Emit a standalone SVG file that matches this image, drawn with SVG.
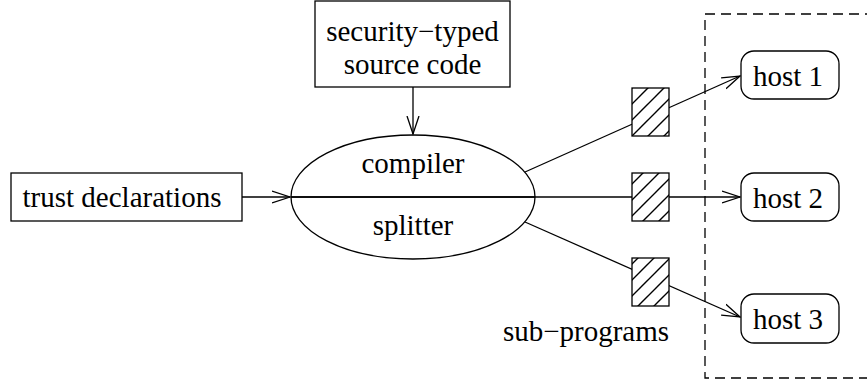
<svg xmlns="http://www.w3.org/2000/svg" width="867" height="381" viewBox="0 0 867 381">
<style>
.box{fill:#fff;stroke:#000;stroke-width:1.3}
.ln{fill:none;stroke:#000;stroke-width:1.3}
.t{font-family:"Liberation Serif","Times New Roman",serif;font-size:29px;fill:#000;text-anchor:middle}
.hatch{fill:url(#hp);stroke:#000;stroke-width:1.3}
</style>
<defs>
<marker id="arr" markerWidth="20" markerHeight="14" refX="18" refY="7" orient="auto" markerUnits="userSpaceOnUse">
<path d="M0,1 L18,7 L0,13" fill="none" stroke="#000" stroke-width="1.3"/>
</marker>
<pattern id="hp" patternUnits="userSpaceOnUse" width="16" height="16">
<rect width="16" height="16" fill="#fff"/>
<path d="M-4,20 L20,-4 M-4,4 L4,-4 M12,20 L20,12" stroke="#000" stroke-width="1.4"/>
</pattern>
</defs>
<g id="boundary">
<rect x="705" y="14" width="180" height="364" fill="none" stroke="#000" stroke-width="1.3" stroke-dasharray="10,6"/>
</g>
<g id="connectors">
<line class="ln" x1="413" y1="87" x2="413" y2="134" marker-end="url(#arr)"/>
<line class="ln" x1="242" y1="197" x2="290" y2="197" marker-end="url(#arr)"/>
<line class="ln" x1="291" y1="197" x2="740" y2="197" marker-end="url(#arr)"/>
<line class="ln" x1="525" y1="172" x2="740" y2="76" marker-end="url(#arr)"/>
<line class="ln" x1="525" y1="222" x2="740" y2="317" marker-end="url(#arr)"/>
</g>
<g id="source">
<rect class="box" x="315" y="1" width="195" height="86"/>
<text class="t" x="412.5" y="41">security−typed</text>
<text class="t" x="412.5" y="74">source code</text>
</g>
<g id="trust">
<rect class="box" x="11" y="173" width="231" height="48"/>
<text class="t" x="122" y="207">trust declarations</text>
</g>
<g id="compiler">
<ellipse cx="413" cy="197" rx="122" ry="62" fill="none" stroke="#000" stroke-width="1.3"/>
<line class="ln" x1="291" y1="197" x2="535" y2="197"/>
<text class="t" x="413" y="173">compiler</text>
<text class="t" x="413" y="235">splitter</text>
</g>
<g id="sub1"><rect class="hatch" x="632" y="88" width="37" height="48"/></g>
<g id="sub2"><rect class="hatch" x="632" y="173" width="37" height="48"/></g>
<g id="sub3"><rect class="hatch" x="632" y="258" width="37" height="48"/></g>
<g id="subprograms"><text class="t" x="586" y="341">sub−programs</text></g>
<g id="host1">
<rect class="box" x="741" y="51" width="98" height="48" rx="13"/>
<text class="t" x="788" y="86">host 1</text>
</g>
<g id="host2">
<rect class="box" x="741" y="173" width="98" height="48" rx="13"/>
<text class="t" x="788" y="208">host 2</text>
</g>
<g id="host3">
<rect class="box" x="741" y="294" width="98" height="49" rx="13"/>
<text class="t" x="788" y="329">host 3</text>
</g>
</svg>
